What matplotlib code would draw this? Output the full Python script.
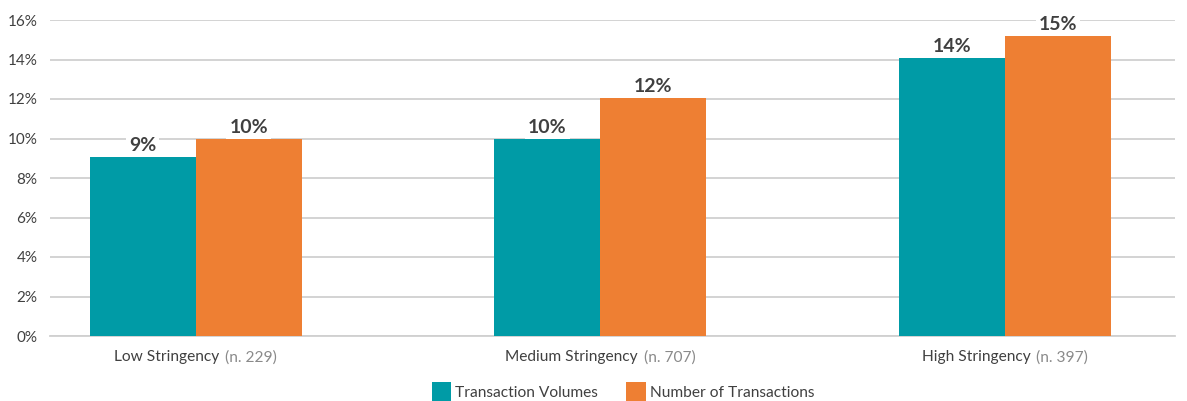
import matplotlib
matplotlib.use("Agg")
import matplotlib.pyplot as plt
from matplotlib.offsetbox import TextArea, HPacker, AnnotationBbox, DrawingArea
from matplotlib.patches import Rectangle

categories = ["Low Stringency", "Medium Stringency", "High Stringency"]
sample_sizes = ["(n. 229)", "(n. 707)", "(n. 397)"]
transaction_volumes = [9.05, 9.97, 14.08]
number_of_transactions = [9.97, 12.05, 15.2]
value_labels_volumes = ["9%", "10%", "14%"]
value_labels_number = ["10%", "12%", "15%"]
series_names = ["Transaction Volumes", "Number of Transactions"]
yticks = [0, 2, 4, 6, 8, 10, 12, 14, 16]

teal = "#009BA6"
orange = "#EE7F33"
dark = "#404040"
gray = "#8a8a8a"

plt.rcParams['font.family'] = ['Lato', 'DejaVu Sans']

fig = plt.figure(figsize=(11.87, 4.01), dpi=100)
W, H = 1187, 401
ax = fig.add_axes([50 / W, (H - 336) / H, (1175 - 50) / W, (336 - 20) / H])

x = list(range(len(categories)))
bw = 0.262
b1 = ax.bar([i - bw / 2 for i in x], transaction_volumes, bw, color=teal, zorder=3)
b2 = ax.bar([i + bw / 2 for i in x], number_of_transactions, bw, color=orange, zorder=3)

for bars, labels in ((b1, value_labels_volumes), (b2, value_labels_number)):
    for r, lab in zip(bars, labels):
        ax.annotate(lab, (r.get_x() + r.get_width() / 2, r.get_height()),
                    xytext=(0, 2), textcoords="offset points", ha="center", va="bottom",
                    fontsize=14, fontweight="bold", color=dark, zorder=4,
                    bbox=dict(boxstyle="square,pad=0.15", fc="white", ec="none"))

ax.set_ylim(0, 16)
ax.set_xlim(-0.36, 2.42)
ax.set_yticks(yticks)
ax.set_yticklabels([f"{t}%" for t in yticks], fontsize=11, color=dark)
ax.set_xticks([])
ax.tick_params(axis="y", length=0, pad=9)
ax.grid(axis="y", color="#d0d0d0", linewidth=1.3, zorder=0)
for s in ["top", "right", "left"]:
    ax.spines[s].set_visible(False)
ax.spines["bottom"].set_color("#d0d0d0")
ax.spines["bottom"].set_linewidth(1.3)

for i, (cat, n) in enumerate(zip(categories, sample_sizes)):
    pk = HPacker(children=[TextArea(cat, textprops=dict(color=dark, fontsize=11.2)),
                           TextArea(n, textprops=dict(color=gray, fontsize=11.2))],
                 pad=0, sep=4, align="baseline")
    ab = AnnotationBbox(pk, (i, 0), xycoords=("data", "axes fraction"),
                        xybox=(0, -10), boxcoords="offset points",
                        box_alignment=(0.5, 1), frameon=False)
    ax.add_artist(ab)

children = []
for name, col in zip(series_names, [teal, orange]):
    da = DrawingArea(14, 14, 0, 0)
    da.add_artist(Rectangle((0, -1), 14, 14, fc=col, ec="none"))
    children.append(da)
    children.append(TextArea(name, textprops=dict(color=dark, fontsize=11.2)))
items = []
for k in range(0, len(children), 2):
    items.append(HPacker(children=[children[k], children[k + 1]], pad=0, sep=3, align="bottom"))
leg = HPacker(children=items, pad=0, sep=20, align="bottom")
ab = AnnotationBbox(leg, (623 / W, 1 / H), xycoords="figure fraction",
                    box_alignment=(0.5, 0), frameon=False)
fig.add_artist(ab)

fig.savefig("out.png", dpi=100)
